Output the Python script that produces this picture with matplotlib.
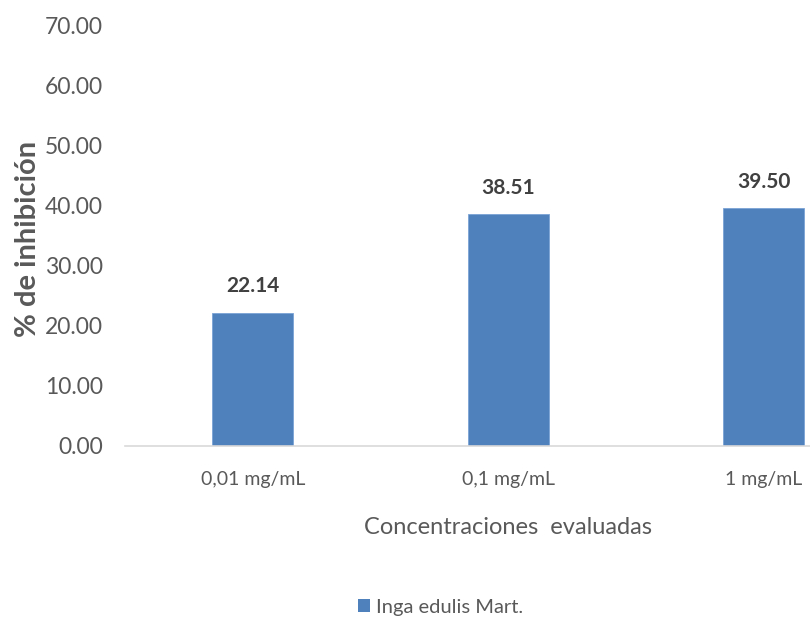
import matplotlib
matplotlib.use("Agg")
import matplotlib.pyplot as plt
from matplotlib.patches import Patch

plt.rcParams['font.family'] = ['Lato', 'DejaVu Sans']

categories = ["0,01 mg/mL", "0,1 mg/mL", "1 mg/mL"]
values = [22.14, 38.51, 39.50]
y_ticks = [0, 10, 20, 30, 40, 50, 60, 70]
series_name = "Inga edulis Mart."

bar_color = "#4f81bd"
text_gray = "#595959"
label_gray = "#404040"

fig = plt.figure(figsize=(8.10, 6.21), dpi=100)
W, H = 810, 621
# plot area runs past the right edge of the canvas
left, right = 125, 891.5
top, bottom = 25, 446
ax = fig.add_axes([left / W, 1 - bottom / H, (right - left) / W, (bottom - top) / H])

x = list(range(len(categories)))
bars = ax.bar(x, values, width=0.317, color=bar_color, edgecolor="#7aa3d6", linewidth=0.6)
ax.set_xlim(-0.5, len(categories) - 0.5)
ax.set_ylim(0, 70)
ax.set_yticks(y_ticks)
ax.set_yticklabels([f"{t:.2f}" for t in y_ticks])
ax.set_xticks(x)
ax.set_xticklabels(categories)

for s in ["top", "right", "left"]:
    ax.spines[s].set_visible(False)
ax.spines["bottom"].set_color("#d9d9d9")
ax.spines["bottom"].set_linewidth(1.2)
ax.tick_params(axis="both", length=0, colors=text_gray)
ax.tick_params(axis="y", pad=16, labelsize=16.5)
ax.tick_params(axis="x", pad=18, labelsize=14)

for b, v in zip(bars, values):
    ax.annotate(f"{v:.2f}", (b.get_x() + b.get_width() / 2, v),
                xytext=(0, 12), textcoords="offset points",
                ha="center", va="bottom", fontsize=15, fontweight="bold", color=label_gray)

fig.text(28 / W, 1 - 239 / H, "% de inhibición", rotation=90, ha="center", va="center",
         fontsize=21, fontweight="bold", color=text_gray)
fig.text(508 / W, 1 - 528 / H, "Concentraciones  evaluadas", ha="center", va="center",
         fontsize=17, color=text_gray)

fig.legend(handles=[Patch(facecolor=bar_color, label=series_name)],
           loc="center", bbox_to_anchor=(441 / W, 1 - 607 / H), frameon=False,
           fontsize=14.5, labelcolor=text_gray, handlelength=0.6, handleheight=0.6,
           handletextpad=0.3)

fig.savefig("out.png", dpi=100)
